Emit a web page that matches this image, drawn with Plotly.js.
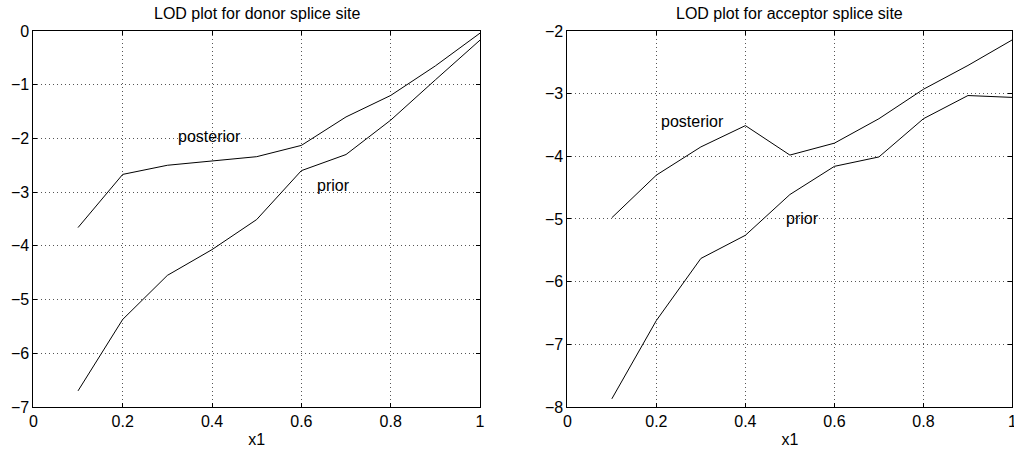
<!DOCTYPE html>
<html><head><meta charset="utf-8">
<script src="https://cdn.plot.ly/plotly-3.0.1.min.js"></script>
<style>html,body{margin:0;padding:0;background:#fff}#c{width:1014px;height:451px}</style>
</head><body><div id="c"></div>
<script>
const x = [0.1,0.2,0.3,0.4,0.5,0.6,0.7,0.8,0.9,1.0];
const donorPosterior = [-3.66,-2.67,-2.50,-2.42,-2.34,-2.13,-1.60,-1.20,-0.65,-0.04];
const donorPrior = [-6.70,-5.37,-4.55,-4.07,-3.51,-2.60,-2.30,-1.66,-0.91,-0.17];
const accPosterior = [-4.98,-4.30,-3.85,-3.51,-3.98,-3.79,-3.40,-2.93,-2.55,-2.14];
const accPrior = [-7.87,-6.62,-5.63,-5.26,-4.61,-4.16,-4.01,-3.40,-3.03,-3.06];
const xTicks = [0,0.2,0.4,0.6,0.8,1];
const xTickLabels = ['0','0.2','0.4','0.6','0.8','1'];
const donorYTicks = [0,-1,-2,-3,-4,-5,-6,-7];
const accYTicks = [-2,-3,-4,-5,-6,-7,-8];
const titles = ['LOD plot for donor splice site','LOD plot for acceptor splice site'];

const minus = v => (v<0 ? '\u2212'+Math.abs(v) : String(v));
const font = {family:'Liberation Sans, Arial, Helvetica, sans-serif', size:16, color:'#000'};
const line = {color:'#000', width:1};
const traces = [
  {x:x, y:donorPosterior, xaxis:'x', yaxis:'y', mode:'lines', line:line},
  {x:x, y:donorPrior, xaxis:'x', yaxis:'y', mode:'lines', line:line},
  {x:x, y:accPosterior, xaxis:'x2', yaxis:'y2', mode:'lines', line:line},
  {x:x, y:accPrior, xaxis:'x2', yaxis:'y2', mode:'lines', line:line}
];
function xa(dom, anchor){
  return {domain:dom, anchor:anchor, range:[0,1], tickvals:xTicks, ticktext:xTickLabels,
    showgrid:true, gridcolor:'#555', griddash:'1px,3px', gridwidth:1,
    showline:true, linecolor:'#000', linewidth:1, mirror:'allticks',
    ticks:'inside', ticklen:4, tickcolor:'#000', zeroline:false, fixedrange:true,
    ticklabeloverflow:'allow',
    tickfont:font, title:{text:'x1', font:font, standoff:4}, automargin:false};
}
function ya(range, ticks, anchor){
  return {domain:[0.0976,0.9313], anchor:anchor, range:range, tickvals:ticks, ticktext:ticks.map(minus),
    showgrid:true, gridcolor:'#555', griddash:'1px,3px', gridwidth:1,
    showline:true, linecolor:'#000', linewidth:1, mirror:'allticks',
    ticks:'inside', ticklen:4, tickcolor:'#000', zeroline:false, fixedrange:true,
    ticklabeloverflow:'allow',
    tickfont:font, automargin:false};
}
const layout = {
  width:1014, height:451, margin:{l:0,r:0,t:0,b:0}, showlegend:false,
  paper_bgcolor:'#fff', plot_bgcolor:'#fff', font:font,
  xaxis: xa([0.0329,0.4734],'y'),
  yaxis: ya([-7,0], donorYTicks,'x'),
  xaxis2: xa([0.5595,0.9985],'y2'),
  yaxis2: ya([-8,-2], accYTicks,'x2'),
  annotations:[
    {text:titles[0], xref:'x domain', yref:'y domain', x:0.5, y:1, yshift:7, xanchor:'center', yanchor:'bottom', showarrow:false, font:font},
    {text:titles[1], xref:'x2 domain', yref:'y2 domain', x:0.5, y:1, yshift:7, xanchor:'center', yanchor:'bottom', showarrow:false, font:font},
    {text:'posterior', xref:'x', yref:'y', x:0.32, y:-1.96, xanchor:'left', yanchor:'middle', showarrow:false, font:font},
    {text:'prior', xref:'x', yref:'y', x:0.63, y:-2.87, xanchor:'left', yanchor:'middle', showarrow:false, font:font},
    {text:'posterior', xref:'x2', yref:'y2', x:0.205, y:-3.44, xanchor:'left', yanchor:'middle', showarrow:false, font:font},
    {text:'prior', xref:'x2', yref:'y2', x:0.487, y:-4.99, xanchor:'left', yanchor:'middle', showarrow:false, font:font}
  ]
};
Plotly.newPlot('c', traces, layout, {staticPlot:true, displayModeBar:false});
</script></body></html>
